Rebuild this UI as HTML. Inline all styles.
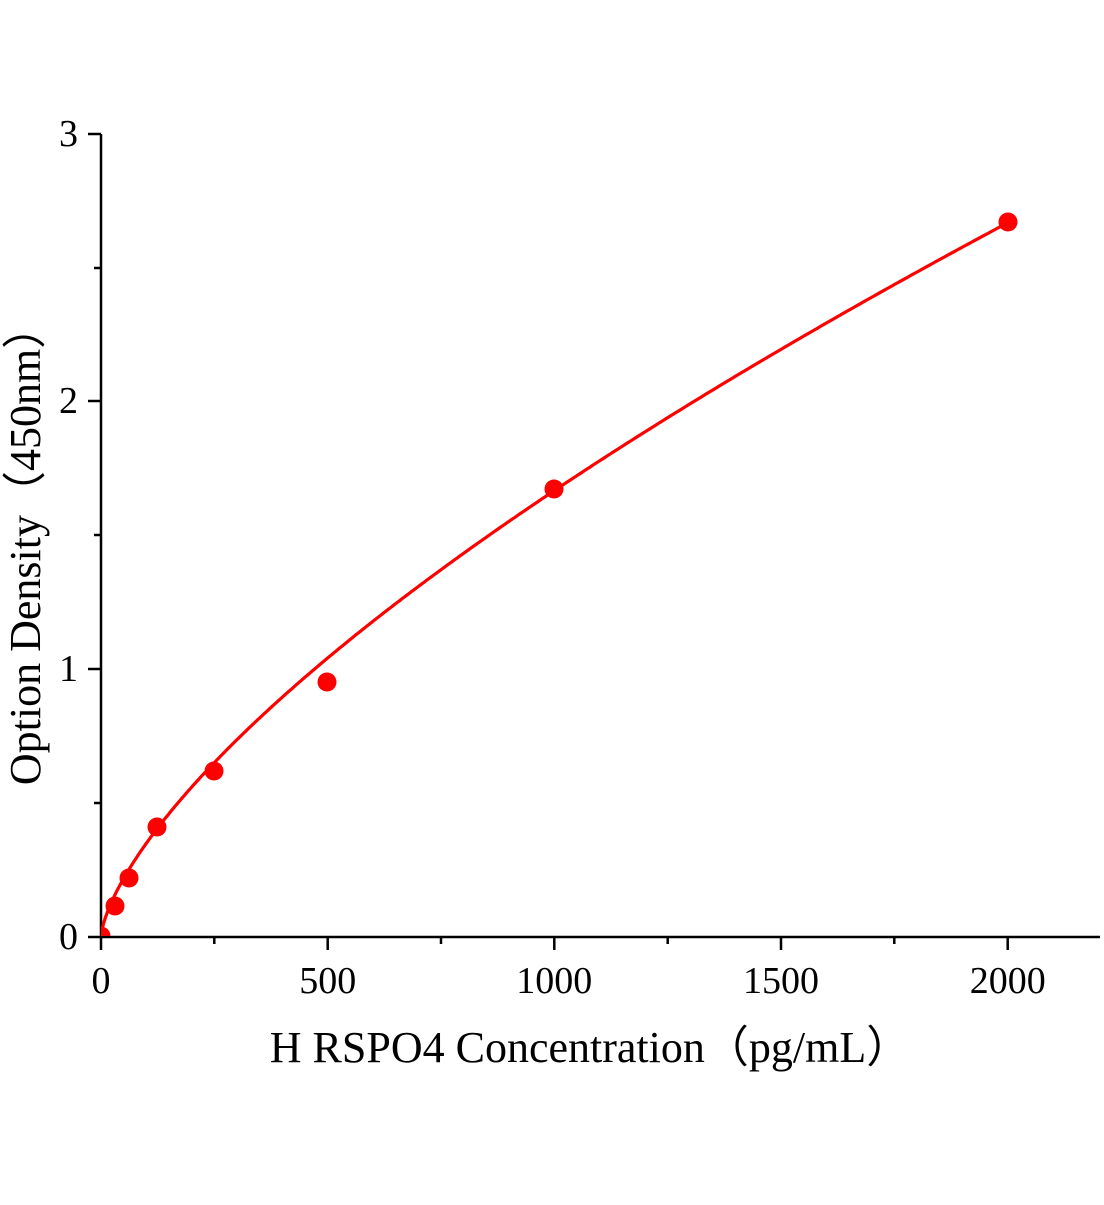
<!DOCTYPE html>
<html><head><style>body{margin:0;background:#fff}</style></head><body>
<svg width="1104" height="1200" xmlns="http://www.w3.org/2000/svg" font-family="Liberation Serif, serif">
<defs><clipPath id="c"><rect x="101" y="100" width="1000" height="836"/></clipPath></defs>
<g stroke="#000" stroke-width="2.5">
<line x1="101" y1="134" x2="101" y2="937"/>
<line x1="100" y1="937" x2="1100" y2="937"/>
<line x1="101" y1="937" x2="101" y2="950"/>
<line x1="327.7" y1="937" x2="327.7" y2="950"/>
<line x1="554.3" y1="937" x2="554.3" y2="950"/>
<line x1="781" y1="937" x2="781" y2="950"/>
<line x1="1007.7" y1="937" x2="1007.7" y2="950"/>
<line x1="214.3" y1="937" x2="214.3" y2="944"/>
<line x1="441" y1="937" x2="441" y2="944"/>
<line x1="667.7" y1="937" x2="667.7" y2="944"/>
<line x1="894.3" y1="937" x2="894.3" y2="944"/>
<line x1="88" y1="937" x2="101" y2="937"/>
<line x1="88" y1="669" x2="101" y2="669"/>
<line x1="88" y1="401" x2="101" y2="401"/>
<line x1="88" y1="134" x2="101" y2="134"/>
<line x1="94" y1="803" x2="101" y2="803"/>
<line x1="94" y1="535" x2="101" y2="535"/>
<line x1="94" y1="268" x2="101" y2="268"/>
</g>
<g font-size="38" text-anchor="middle">
<text x="101" y="993">0</text><text x="327.7" y="993">500</text><text x="554.3" y="993">1000</text><text x="781" y="993">1500</text><text x="1007.7" y="993">2000</text>
</g>
<g font-size="38" text-anchor="end">
<text x="78" y="949">0</text><text x="78" y="681">1</text><text x="78" y="413">2</text><text x="78" y="146">3</text>
</g>
<text x="590" y="1062" font-size="44" text-anchor="middle">H RSPO4 Concentration（pg/mL）</text>
<text transform="translate(40,545) rotate(-90)" font-size="44" text-anchor="middle">Option Density（450nm）</text>
<g clip-path="url(#c)">
<polyline id="curve" fill="none" stroke="#f00" stroke-width="3.2" points=""/>
<g fill="#f00">
<circle cx="101" cy="936" r="9.5"/><circle cx="115" cy="906" r="9.5"/><circle cx="129" cy="878" r="9.5"/><circle cx="157" cy="827" r="9.5"/><circle cx="214" cy="771" r="9.5"/><circle cx="327" cy="682" r="9.5"/><circle cx="554" cy="489" r="9.5"/><circle cx="1008" cy="222" r="9.5"/>
</g>
</g>
<script>
var p=[];for(var i=0;i<=400;i++){var x=2000*Math.pow(i/400,1.6);var y=0.01542*Math.pow(x,0.678);p.push((101+x*0.45333).toFixed(1)+","+(937-y*267.7).toFixed(1));}
document.getElementById("curve").setAttribute("points",p.join(" "));
</script>
</svg>
</body></html>
